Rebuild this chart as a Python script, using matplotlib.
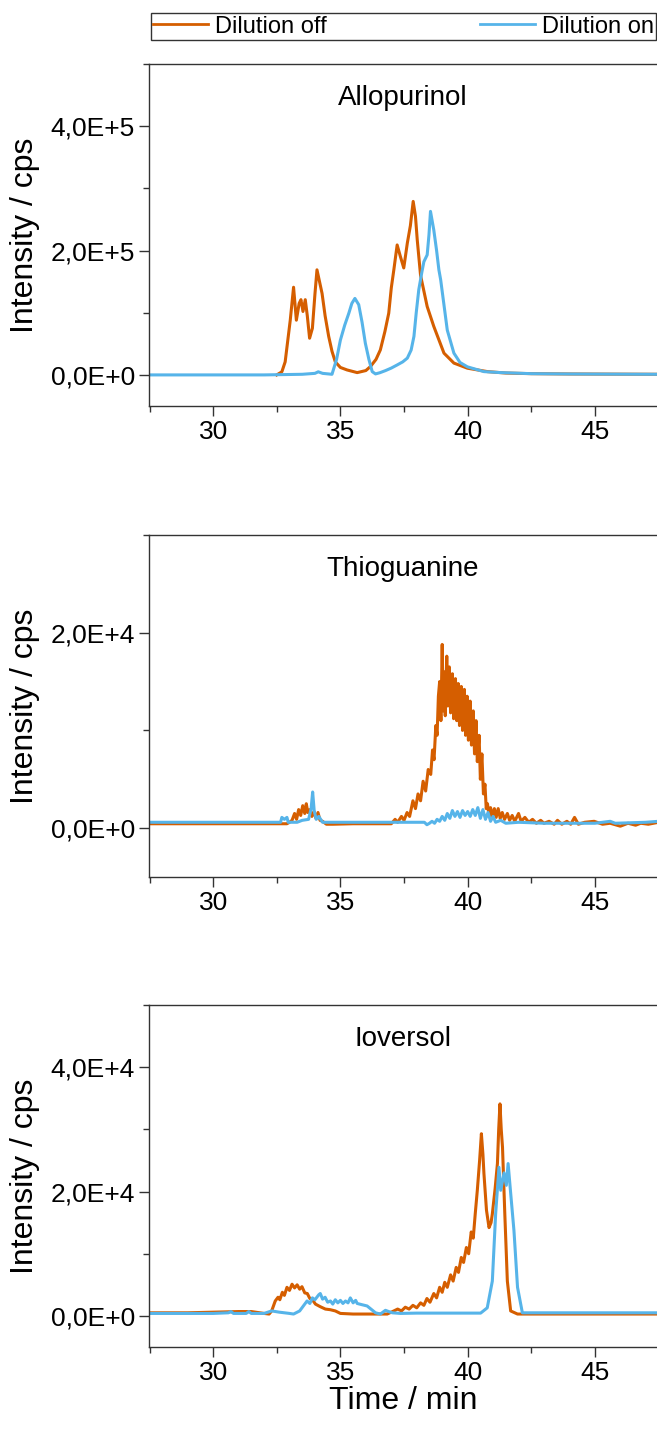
import numpy as np
import matplotlib
matplotlib.use("Agg")
import matplotlib.pyplot as plt
from matplotlib.ticker import MultipleLocator, FuncFormatter
from matplotlib.lines import Line2D

plt.rcParams['font.family'] = ['Liberation Sans', 'DejaVu Sans']

# ------- Data -------
# Allopurinol
allo_off_t = [32.50, 32.70, 32.83, 33.03, 33.16, 33.27, 33.38, 33.45, 33.53, 33.62, 33.70, 33.79,
              33.90, 34.00, 34.08, 34.18, 34.28, 34.40, 34.54, 34.67, 34.80, 35.00, 35.26, 35.66,
              36.00, 36.18, 36.40, 36.57, 36.75, 36.90, 37.00, 37.10, 37.23, 37.36, 37.49, 37.63,
              37.75, 37.86, 37.95, 38.02, 38.15, 38.41, 38.67, 39.07, 39.46, 39.99, 40.78, 41.50,
              42.50, 44.00, 46.00, 47.50]
allo_off_v = [0, 5000, 21000, 88000, 141000, 88000, 115000, 121000, 102000, 121000, 95000, 59000,
              75000, 130000, 169000, 150000, 131000, 95000, 62000, 38000, 21000, 12000, 8000, 3700,
              7000, 13400, 25000, 40200, 70000, 99300, 140000, 169000, 209000, 190000, 172000, 212000,
              240000, 279000, 255000, 217000, 160000, 110000, 78000, 35000, 19000, 10800, 5300, 3000,
              2000, 1500, 1200, 1000]

allo_on_t = [27.50, 30.00, 32.00, 33.50, 34.00, 34.13, 34.30, 34.67, 34.85, 35.00, 35.17, 35.33,
             35.45, 35.57, 35.72, 35.85, 35.98, 36.12, 36.25, 36.38, 36.55, 36.77, 37.00, 37.23,
             37.45, 37.63, 37.78, 37.89, 37.98, 38.08, 38.20, 38.28, 38.41, 38.48, 38.54, 38.67,
             38.78, 38.87, 38.94, 39.20, 39.46, 39.70, 39.99, 40.64, 41.30, 42.50, 44.00, 46.00,
             47.50]
allo_on_v = [0, 0, 0, 1000, 2500, 5000, 2500, 1000, 25000, 56000, 80000, 99000,
             115000, 123000, 113000, 85000, 51000, 25000, 5300, 1600, 3500, 6900, 11000, 16000,
             21000, 27000, 40000, 62000, 100000, 137000, 165000, 182000, 193000, 225000, 263000, 233000,
             200000, 169000, 153000, 72000, 35000, 20000, 13000, 5300, 3700, 2000, 1500, 1200,
             1000]

# Thioguanine
thio_off_t = [27.50, 32.90, 33.00, 33.10, 33.20, 33.28, 33.36, 33.44, 33.52, 33.60, 33.66, 33.72,
              33.80, 33.88, 33.96, 34.04, 34.12, 34.20, 34.30, 34.45, 34.70, 35.50, 36.50, 37.00,
              37.15, 37.25, 37.40, 37.50, 37.62, 37.72, 37.85, 37.95, 38.05, 38.15, 38.25, 38.35,
              38.45, 38.55, 38.62, 38.68, 38.75, 38.80, 38.85, 38.90, 38.95, 39.00, 39.04, 39.08,
              39.12, 39.18, 39.22, 39.28, 39.33, 39.40, 39.45, 39.52, 39.57, 39.63, 39.68, 39.75,
              39.80, 39.87, 39.92, 39.98, 40.03, 40.10, 40.15, 40.22, 40.27, 40.33, 40.38, 40.45,
              40.50, 40.56, 40.62, 40.68, 40.73, 40.78, 40.84, 40.90, 40.97, 41.05, 41.12, 41.20,
              41.28, 41.36, 41.45, 41.56, 41.65, 41.75, 41.85, 42.00, 42.10, 42.25, 42.40, 42.55,
              42.70, 42.87, 43.00, 43.20, 43.40, 43.53, 43.70, 43.90, 44.05, 44.20, 44.35, 44.60,
              44.97, 45.30, 45.60, 46.00, 46.30, 46.60, 46.80, 47.10, 47.50]
thio_off_v = [450, 450, 600, 800, 1500, 900, 1900, 1300, 2300, 1500, 2500, 1600,
              1900, 1200, 1700, 1000, 1600, 800, 700, 400, 400, 450, 450, 450,
              900, 600, 1200, 800, 1600, 1200, 2800, 2000, 3500, 2800, 4800, 3800,
              6000, 5500, 8000, 7000, 10500, 9500, 13500, 15000, 11000, 18800, 12000, 16000,
              11500, 17600, 12500, 16500, 11800, 15800, 11200, 15300, 11000, 14800, 10500, 14500,
              10000, 14200, 9500, 13500, 9000, 13000, 8500, 12000, 7600, 11000, 6800, 9500,
              5000, 7600, 3500, 4500, 2000, 2500, 1200, 2100, 1200, 2000, 1100, 2000,
              1000, 1600, 900, 1500, 800, 1300, 700, 1500, 700, 1100, 600, 900,
              500, 800, 500, 700, 400, 800, 400, 700, 400, 1100, 400, 600,
              700, 400, 500, 200, 500, 300, 500, 400, 600]

thio_on_t = [27.50, 32.65, 32.70, 32.80, 32.90, 32.95, 33.30, 33.50, 33.75, 33.85, 33.91, 33.97,
             34.05, 34.15, 34.30, 38.30, 38.40, 38.50, 38.60, 38.70, 38.80, 38.90, 39.00, 39.10,
             39.20, 39.30, 39.40, 39.50, 39.60, 39.70, 39.80, 39.90, 40.00, 40.10, 40.20, 40.30,
             40.40, 40.50, 40.60, 40.70, 40.80, 40.90, 41.00, 41.10, 41.30, 41.50, 42.00, 43.00,
             44.00, 45.00, 45.60, 45.80, 47.00, 47.50]
thio_on_v = [600, 600, 1100, 900, 1100, 600, 600, 800, 900, 2000, 3700, 1800,
             900, 1200, 600, 600, 350, 500, 700, 500, 900, 700, 1200, 800,
             1500, 1000, 1800, 1200, 1700, 1100, 1800, 1300, 1700, 1200, 1900, 1300,
             2100, 1000, 1900, 900, 1600, 700, 1200, 600, 800, 500, 600, 500,
             500, 500, 700, 500, 600, 700]

# Ioversol
iov_off_t = [27.50, 29.00, 30.00, 31.00, 31.50, 32.00, 32.20, 32.30, 32.44, 32.55, 32.62, 32.72,
             32.80, 32.90, 33.00, 33.10, 33.20, 33.30, 33.40, 33.49, 33.60, 33.70, 33.80, 33.90,
             34.02, 34.20, 34.41, 34.60, 34.80, 35.00, 35.50, 36.00, 36.50, 36.84, 37.10, 37.25,
             37.40, 37.55, 37.70, 37.85, 38.00, 38.15, 38.28, 38.40, 38.52, 38.67, 38.78, 38.90,
             39.00, 39.10, 39.20, 39.33, 39.43, 39.55, 39.64, 39.75, 39.84, 39.95, 40.04, 40.14,
             40.22, 40.30, 40.38, 40.47, 40.54, 40.60, 40.64, 40.74, 40.84, 40.92, 40.97, 41.08,
             41.17, 41.22, 41.27, 41.32, 41.37, 41.46, 41.56, 41.69, 41.96, 47.50]
iov_off_v = [500, 500, 600, 700, 700, 400, 300, 800, 2400, 3000, 2600, 3800,
             3300, 4600, 4100, 5100, 4500, 5000, 4300, 4700, 3700, 3600, 2800, 2600,
             1900, 1500, 1100, 1000, 800, 400, 300, 300, 300, 300, 800, 1100,
             800, 1400, 1100, 1700, 1300, 2100, 1700, 2800, 2200, 3600, 2900, 4600,
             3800, 5400, 4600, 6600, 5600, 7800, 7000, 9400, 8600, 11000, 10000, 13500,
             12500, 16500, 20200, 25000, 29300, 26000, 22900, 17000, 14200, 15000, 16400, 20500,
             24500, 30000, 34100, 30000, 27100, 16400, 5600, 800, 300, 300]

iov_on_t = [27.50, 30.00, 30.60, 30.70, 30.80, 31.30, 31.40, 31.50, 32.00, 32.30, 32.60, 33.00,
            33.16, 33.40, 33.69, 33.80, 33.90, 34.00, 34.15, 34.21, 34.30, 34.40, 34.50, 34.61,
            34.70, 34.80, 34.90, 35.00, 35.10, 35.20, 35.30, 35.39, 35.50, 35.60, 35.66, 35.85,
            36.05, 36.20, 36.38, 36.57, 36.77, 36.90, 37.04, 37.36, 38.00, 39.00, 40.00, 40.51,
            40.77, 40.97, 41.10, 41.23, 41.30, 41.43, 41.52, 41.59, 41.67, 41.82, 41.96, 42.15,
            47.50]
iov_on_v = [400, 400, 500, 700, 400, 400, 700, 400, 400, 800, 600, 400,
            300, 800, 2400, 2000, 2900, 2600, 3400, 3600, 2700, 3000, 2200, 2400,
            1900, 2600, 2100, 2500, 2000, 2400, 2100, 2900, 2100, 2500, 2000, 1800,
            1600, 1100, 500, 300, 900, 700, 500, 400, 450, 450, 450, 450,
            1300, 5600, 16400, 23900, 20200, 23000, 21000, 24500, 20700, 13700, 4600, 500,
            500]

names = ['Allopurinol', 'Thioguanine', 'Ioversol']
off_series = [(allo_off_t, allo_off_v), (thio_off_t, thio_off_v), (iov_off_t, iov_off_v)]
on_series = [(allo_on_t, allo_on_v), (thio_on_t, thio_on_v), (iov_on_t, iov_on_v)]
ylims = [(-0.5e5, 5e5), (-0.5e4, 3e4), (-0.5e4, 5e4)]
ymajor = [2e5, 2e4, 2e4]
exps = [5, 4, 4]

c_off = '#D55E00'
c_on = '#56B4E9'

W, H = 657, 1431
fig = plt.figure(figsize=(W / 100, H / 100), dpi=100)

# panel boxes in pixels (top, bottom)
boxes = [(64, 406), (535, 877), (1005, 1347)]
left_px = 149


def sci_fmt(e):
    def f(v, pos):
        if abs(v) < 1e-9:
            return '0,0E+0'
        return ('%.1f' % (v / 10 ** e)).replace('.', ',') + 'E+%d' % e
    return f


for i, name in enumerate(names):
    top, bot = boxes[i]
    ax = fig.add_axes([left_px / W, 1 - bot / H, (W - left_px) / W, (bot - top) / H])
    ax.plot(off_series[i][0], off_series[i][1], color=c_off, lw=2.2)
    ax.plot(on_series[i][0], on_series[i][1], color=c_on, lw=2.2)
    ax.set_xlim(27.48, 47.44)
    ax.set_ylim(*ylims[i])
    ax.xaxis.set_major_locator(MultipleLocator(5))
    ax.xaxis.set_minor_locator(MultipleLocator(2.5))
    ax.yaxis.set_major_locator(MultipleLocator(ymajor[i]))
    ax.yaxis.set_minor_locator(MultipleLocator(ymajor[i] / 2))
    ax.yaxis.set_major_formatter(FuncFormatter(sci_fmt(exps[i])))
    ax.spines['right'].set_visible(False)
    for s in ['left', 'bottom', 'top']:
        ax.spines[s].set_color('#333333')
        ax.spines[s].set_linewidth(1.0)
    ax.tick_params(which='major', direction='out', length=7, width=1, labelsize=19,
                   color='#333333', pad=3, top=False, right=False)
    ax.tick_params(which='minor', direction='out', length=4, width=1,
                   color='#333333', top=False, right=False)
    ax.set_ylabel('Intensity / cps', fontsize=23)
    ax.yaxis.set_label_coords(-0.215, 0.5)
    ax.text(0.5, 0.9, name, transform=ax.transAxes, ha='center', va='center', fontsize=20)
    if i == 2:
        ax.set_xlabel('Time / min', fontsize=23)
        ax.xaxis.set_label_coords(0.5, -0.115)

handles = [Line2D([], [], color=c_off, lw=2), Line2D([], [], color=c_on, lw=2)]
leg = fig.legend(handles, ['Dilution off', 'Dilution on'], loc='lower left',
                 bbox_to_anchor=(151 / W, 1 - 40 / H, 505 / W, 28 / H), mode='expand',
                 ncol=2, borderaxespad=0, fancybox=False, edgecolor='black',
                 handlelength=2.3, handletextpad=0.3, borderpad=0.1, fontsize=17,
                 columnspacing=0.5)
leg.get_frame().set_linewidth(1.0)

fig.savefig('out.png', dpi=100)
